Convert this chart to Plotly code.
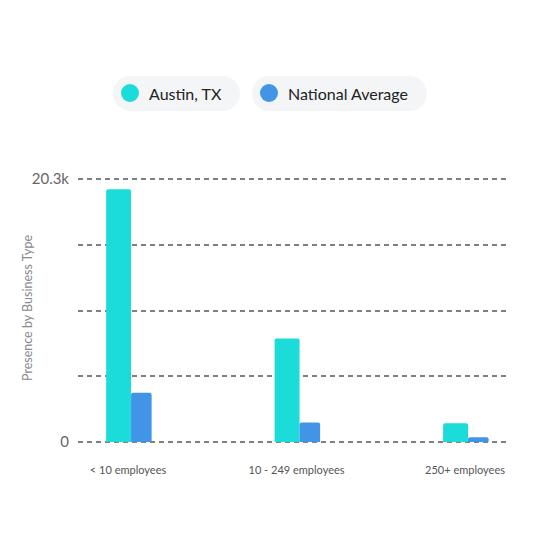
import plotly.graph_objects as go

categories = ["< 10 employees", "10 - 249 employees", "250+ employees"]
series_names = ["Austin, TX", "National Average"]
austin_values = [19500, 7980, 1440]
national_values = [3800, 1510, 360]
y_tick_values = [0, 5075, 10150, 15225, 20300]
y_tick_labels = ["0", "", "", "", "20.3k"]
y_title = "Presence by Business Type"

colors = ["#1CDCDA", "#4294E6"]
font_family = "Lato, 'Open Sans', sans-serif"

# figure sits 8px in from the page corner (body margin); targets below are page pixels
OFF = 8
W, H = 541, 541
PAD = 2  # extra px so the 0 and 20.3k gridlines are not clipped at the axis ends
plot_left, plot_right, plot_top, plot_bottom = 78, 510, 179 - PAD, 442 + PAD
L, R = plot_left - OFF, W - (plot_right - OFF)
T, B = plot_top - OFF, H - (plot_bottom - OFF)
pw, ph = W - L - R, H - T - B
y_pad = PAD * 20300 / (ph - 2 * PAD)


def px_x(p):
    return (p - plot_left) / pw


def px_y(p):
    return (plot_bottom - p) / ph


fig = go.Figure()
fig.add_trace(go.Bar(
    x=list(range(len(categories))), y=austin_values, name=series_names[0],
    marker=dict(color=colors[0], line=dict(width=0)),
    width=0.148, offset=-0.13,
))
fig.add_trace(go.Bar(
    x=list(range(len(categories))), y=national_values, name=series_names[1],
    marker=dict(color=colors[1], line=dict(width=0)),
    width=0.122, offset=0.018,
))

# custom pill legend
shapes = []
annotations = []
pills = [(113, 240, 130, 147), (252, 427, 269, 286)]
for (x0, x1, cx, tx), name, col in zip(pills, series_names, colors):
    y0, y1 = 76, 111
    r = (y1 - y0) / 2
    fill = "#F4F5F7"
    shapes.append(dict(type="rect", xref="paper", yref="paper",
                       x0=px_x(x0 + r), x1=px_x(x1 - r), y0=px_y(y1), y1=px_y(y0),
                       fillcolor=fill, line=dict(width=0), layer="below"))
    for ex in (x0, x1 - 2 * r):
        shapes.append(dict(type="circle", xref="paper", yref="paper",
                           x0=px_x(ex), x1=px_x(ex + 2 * r), y0=px_y(y1), y1=px_y(y0),
                           fillcolor=fill, line=dict(width=0), layer="below"))
    shapes.append(dict(type="circle", xref="paper", yref="paper",
                       x0=px_x(cx - 9), x1=px_x(cx + 9), y0=px_y(102), y1=px_y(84),
                       fillcolor=col, line=dict(width=0)))
    annotations.append(dict(text=name, xref="paper", yref="paper",
                            x=px_x(tx), y=px_y(93.5), xanchor="left", yanchor="middle",
                            showarrow=False, font=dict(size=16, color="#222", family=font_family)))

# y axis title as a rotated annotation so it sits where the original does
annotations.append(dict(text=y_title, xref="paper", yref="paper",
                        x=px_x(27), y=px_y(308), xanchor="center", yanchor="middle",
                        textangle=-90, showarrow=False,
                        font=dict(size=12.5, color="#8a8a8a", family=font_family)))

fig.update_layout(
    width=W, height=H,
    margin=dict(l=L, r=R, t=T, b=B),
    paper_bgcolor="white", plot_bgcolor="white",
    barmode="overlay",
    barcornerradius=2,
    showlegend=False,
    shapes=shapes,
    annotations=annotations,
    font=dict(family=font_family),
    xaxis=dict(
        range=[-0.297, 2.267],
        tickvals=list(range(len(categories))), ticktext=categories,
        showgrid=False, zeroline=False, showline=False, automargin=False,
        tickfont=dict(size=11, color="#555"),
        ticks="", ticklabelstandoff=18,
    ),
    yaxis=dict(
        range=[-y_pad, 20300 + y_pad],
        tickvals=y_tick_values, ticktext=y_tick_labels,
        showgrid=True, gridcolor="#808080", griddash="5px,4px", gridwidth=1.5,
        zeroline=False, showline=False, automargin=False,
        tickfont=dict(size=15, color="#666"),
        ticks="", ticklabelstandoff=8,
    ),
)

fig.write_html("out.html")
